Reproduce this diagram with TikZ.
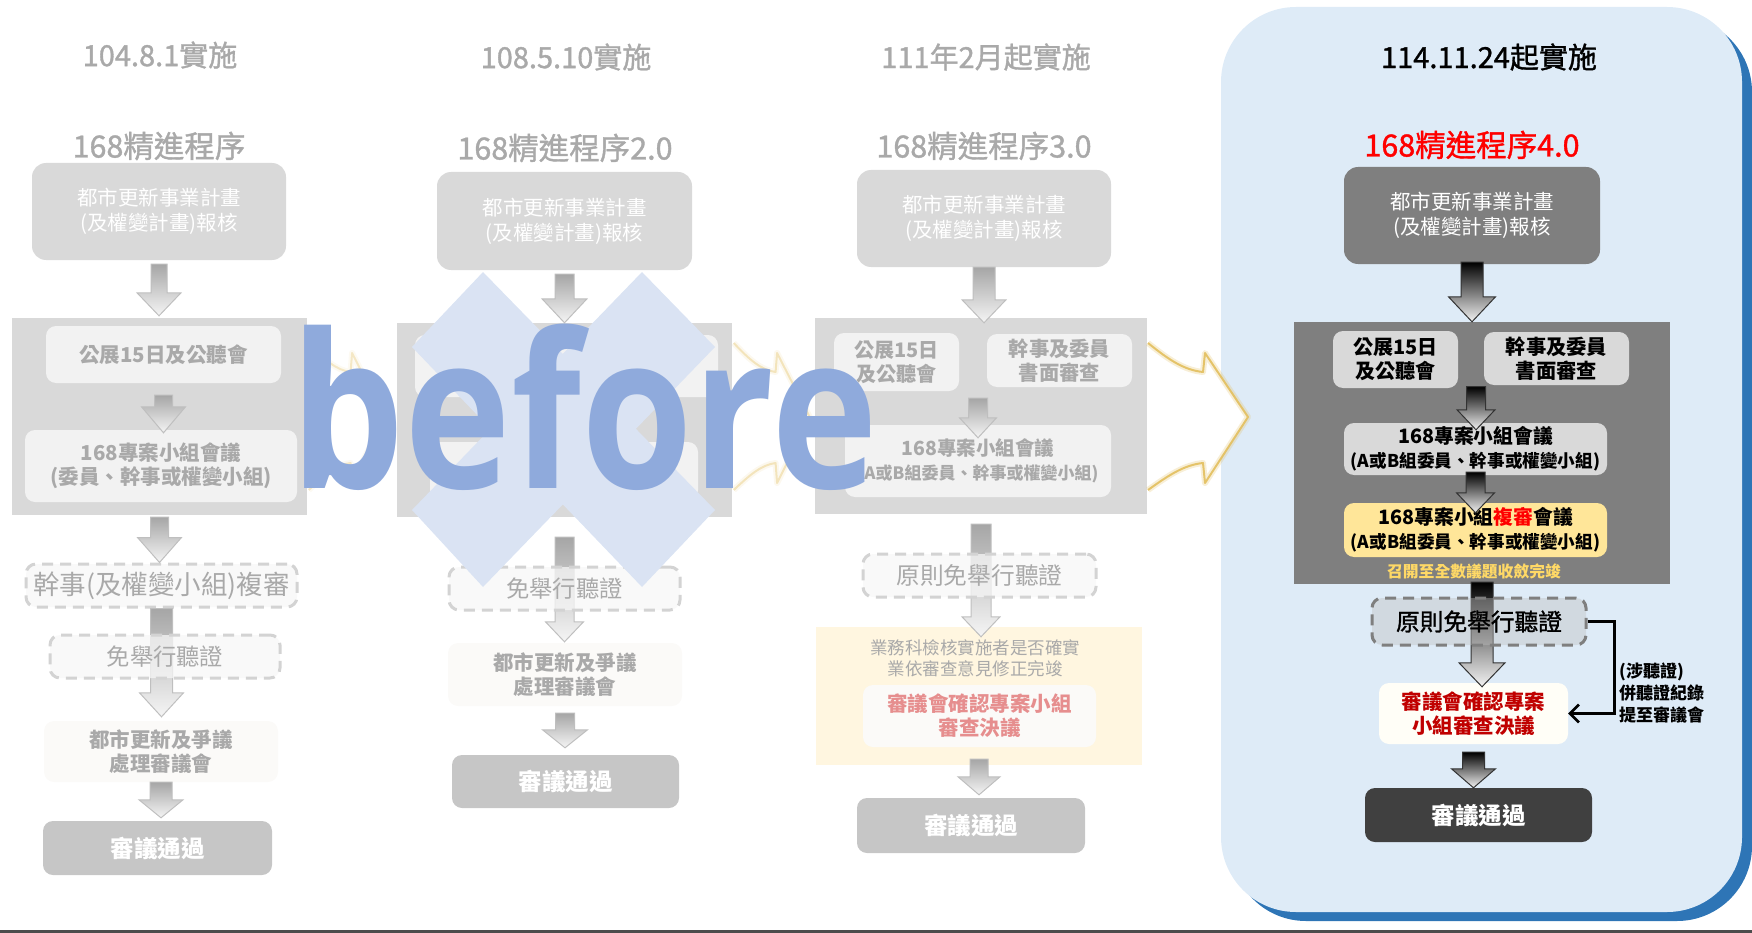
\documentclass[tikz,border=0pt]{standalone}
\usepackage{fontspec}
\setmainfont{Noto Sans CJK TC}
\newfontfamily\titlefont{Noto Sans CJK TC}[FakeBold=1.2]
\newfontfamily\befont{Open Sans}
\usetikzlibrary{calc,arrows.meta}

\definecolor{fadegray}{HTML}{D9D9D9}
\definecolor{fadetext}{HTML}{A9A9A9}
\definecolor{fadeinner}{HTML}{F2F2F2}
\definecolor{fadedash}{HTML}{D3D3D3}
\definecolor{fadeboard}{HTML}{FBFAF8}
\definecolor{fadepass}{HTML}{C6C6C6}
\definecolor{fadeyellow}{HTML}{FFF6E0}
\definecolor{fadered}{HTML}{E68E8E}
\definecolor{darkbox}{HTML}{7F7F7F}
\definecolor{panelblue}{HTML}{DEEBF7}
\definecolor{panelshadow}{HTML}{2E75B6}
\definecolor{bigx}{HTML}{DAE3F3}
\definecolor{beforeblue}{HTML}{8FAADC}
\definecolor{goldline}{HTML}{E3BF5E}
\definecolor{yellowbox}{HTML}{FFE699}
\definecolor{goldtext}{HTML}{FFD966}
\definecolor{redtext}{HTML}{C00000}
\definecolor{passdark}{HTML}{404040}

\newcommand\fsz[2]{\fontsize{#1}{#2}\selectfont}
% block arrow: style, from, to, half shaft, half head, head length
\newcommand\blkarrow[6]{%
  \shade[#1] let \p1=(#2), \p2=(#3) in
    (\x1-#4,\y1) -- (\x1+#4,\y1) -- (\x1+#4,\y2+#6) -- (\x1+#5,\y2+#6)
    -- (\x1,\y2) -- (\x1-#5,\y2+#6) -- (\x1-#4,\y2+#6) -- cycle;}

\begin{document}
\begin{tikzpicture}[x=1pt, y=-1pt, >={Straight Barb[length=9pt,width=18pt]},
  every node/.style={inner sep=0pt},
  oldtitle/.style={text=fadetext, font=\titlefont\fsz{29}{34}},
  oldhead/.style={text=fadetext, font=\titlefont\fsz{30.5}{36}},
  oldtop/.style={fill=fadegray, rounded corners=14pt, text=white, align=center, font=\fsz{20.5}{25}},
  oldgroup/.style={fill=fadegray},
  oldinner/.style={fill=fadeinner, rounded corners=10pt, text=fadetext, align=center, font=\bfseries\fsz{20.5}{24}},
  olddash/.style={draw=fadedash, dash pattern=on 11pt off 7pt, line width=3pt, rounded corners=10pt,
    fill=black!3, fill opacity=0.75, text opacity=1, text=fadetext},
  oldboard/.style={fill=fadeboard, rounded corners=10pt, text=fadetext, align=center, font=\bfseries\fsz{20.5}{24}},
  oldpass/.style={fill=fadepass, rounded corners=10pt, text=white, font=\bfseries\fsz{23.5}{28}},
  oldarrow/.style={top color=black!35, bottom color=black!4, draw=black!25, line width=1pt},
  newtop/.style={fill=darkbox, rounded corners=14pt, text=white, align=center, font=\fsz{20.5}{25}},
  newgroup/.style={fill=darkbox},
  newinner/.style={fill=fadegray, rounded corners=10pt, text=black, align=center, font=\bfseries\fsz{20.5}{24}},
  newdash/.style={draw=darkbox, dash pattern=on 11pt off 7pt, line width=3pt, rounded corners=10pt,
    fill=black!25, fill opacity=0.4, text opacity=1, text=black},
  newboard/.style={fill=black!3!yellow!3, rounded corners=10pt, text=redtext, align=center, font=\bfseries\fsz{20.5}{24}},
  newpass/.style={fill=passdark, rounded corners=10pt, text=white, font=\bfseries\fsz{23.5}{28}},
  newarrow/.style={top color=black, bottom color=black!5, draw=black!80, line width=1pt}]

\useasboundingbox (0,0) rectangle (1752,933);

% panel of the new procedure
\fill[panelshadow, rounded corners=75pt] (1231,17) rectangle (1752,921);
\fill[panelblue, rounded corners=75pt] (1221,7) rectangle (1742,912);

% 104.8.1
\node (t1) [oldtitle] at (160,55) {104.8.1實施};
\node (s1) [oldhead] at (159,146) {168精進程序};
\node (a1) [oldtop, minimum width=254pt, minimum height=97pt] at (159,211.5) {都市更新事業計畫\\(及權變計畫)報核};
\node (g1) [oldgroup, minimum width=295pt, minimum height=197pt] at (159.5,416.5) {};
\node (b1) [oldinner, minimum width=235pt, minimum height=57pt] at (163.5,354.5) {公展15日及公聽會};
\node (c1) [oldinner, minimum width=272pt, minimum height=72pt] at (161,466) {168專案小組會議\\(委員、幹事或權變小組)};
\node (d1) [olddash, minimum width=271pt, minimum height=43pt, font=\fsz{26.5}{30}] at (161.5,585.5) {幹事(及權變小組)複審};
\node (f1) [oldboard, minimum width=234pt, minimum height=61pt] at (161,751.5) {都市更新及爭議\\處理審議會};
\node (h1) [oldpass, minimum width=229pt, minimum height=54pt] at (157.5,848) {審議通過};
\blkarrow{oldarrow}{[yshift=-4pt]a1.south}{[yshift=2pt]g1.north}{8pt}{22pt}{23pt}
\blkarrow{oldarrow}{[yshift=-12pt]b1.south}{[yshift=-3pt]c1.north}{9pt}{22pt}{26pt}
\blkarrow{oldarrow}{[yshift=-2pt]g1.south}{d1.north}{9pt}{22pt}{25pt}
\blkarrow{oldarrow}{d1.south}{[yshift=4pt]f1.north}{11pt}{22pt}{24pt}
\node (e1) [olddash, minimum width=230pt, minimum height=43pt, font=\fsz{23.3}{28}] at (165,656.5) {免舉行聽證};
\blkarrow{oldarrow}{f1.south}{[yshift=3pt]h1.north}{11pt}{22pt}{18pt}

% 108.5.10
\node (t2) [oldtitle] at (566,57) {108.5.10實施};
\node (s2) [oldhead] at (565,148) {168精進程序2.0};
\node (a2) [oldtop, minimum width=255pt, minimum height=98pt] at (564.5,221) {都市更新事業計畫\\(及權變計畫)報核};
\node (g2) [oldgroup, minimum width=335pt, minimum height=194pt] at (564.5,420) {};
\node (b2) [oldinner, minimum width=303pt, minimum height=62pt] at (566.5,366) {};
\node (c2) [oldinner, minimum width=268pt, minimum height=58pt] at (564,471) {};
\blkarrow{oldarrow}{[yshift=-4pt]a2.south}{g2.north}{9.5pt}{22.5pt}{24pt}
\node (f2) [oldboard, minimum width=234pt, minimum height=63pt] at (565,674.5) {都市更新及爭議\\處理審議會};
\node (h2) [oldpass, minimum width=227pt, minimum height=53pt] at (565.5,781.5) {審議通過};
\blkarrow{oldarrow}{[yshift=-20pt]g2.south}{[yshift=1pt]f2.north}{9.5pt}{19pt}{20pt}
\node (e2) [olddash, minimum width=231pt, minimum height=43pt, font=\fsz{23.3}{28}] at (564.5,588.5) {免舉行聽證};
\blkarrow{oldarrow}{[yshift=-7pt]f2.south}{[yshift=7pt]h2.north}{9.5pt}{22.5pt}{18pt}

% 111.2
\node (t3) [oldtitle] at (986,57) {111年2月起實施};
\node (s3) [oldhead] at (984,146) {168精進程序3.0};
\node (a3) [oldtop, minimum width=254pt, minimum height=97pt] at (984,218.5) {都市更新事業計畫\\(及權變計畫)報核};
\node (g3) [oldgroup, minimum width=332pt, minimum height=196pt] at (981,416) {};
\node (b3) [oldinner, minimum width=125pt, minimum height=58pt, font=\bfseries\fsz{20}{24}] at (896.5,362) {公展15日\\及公聽會};
\node (k3) [oldinner, minimum width=145pt, minimum height=53pt, font=\bfseries\fsz{20.3}{24}] at (1059.5,360.5) {幹事及委員\\書面審查};
\node (c3) [oldinner, minimum width=266pt, minimum height=72pt] at (978,461) {{\fsz{19.5}{22}168專案小組會議}\\{\fsz{17}{22}(A或B組委員、幹事或權變小組)}};
\blkarrow{oldarrow}{a3.south}{[yshift=-5pt]g3.north}{11pt}{22pt}{23pt}
\blkarrow{oldarrow}{[yshift=-9pt]$(b3.south)!0.5!(k3.south)$}{[yshift=-13pt]c3.north}{9.5pt}{18.5pt}{20pt}
\node (y3) [fill=fadeyellow, minimum width=326pt, minimum height=138pt] at (979,696) {};
\blkarrow{oldarrow}{[yshift=-10pt]g3.south}{[yshift=-10pt]y3.north}{10pt}{19pt}{20pt}
\node (e3) [olddash, minimum width=233pt, minimum height=43pt, font=\fsz{23.7}{28}] at (979.5,575.5) {原則免舉行聽證};
\node (n3) [text=fadetext, align=center, font=\fsz{17.5}{21}] at (975,658.5) {業務科檢核實施者是否確實\\業依審查意見修正完竣};
\node (r3) [oldboard, text=fadered, minimum width=233pt, minimum height=62pt] at (979.5,716) {審議會確認專案小組\\審查決議};
\node (h3) [oldpass, minimum width=228pt, minimum height=55pt] at (971,825.5) {審議通過};
\blkarrow{oldarrow}{[yshift=6pt]y3.south}{[yshift=3pt]h3.north}{9pt}{21pt}{18pt}

% arrows between the stages
\foreach \gx/\gs/\go/\gg in {308/0.76/0.3/0.08, 733/0.76/0.35/0.1, 1147/1/0.9/0.25} {
  \begin{scope}[shift={(\gx,0)}, xscale=\gs]
    \fill[white] (1,343) .. controls (22,360) and (37,370) .. (56,372) -- (58,353) -- (101,417)
      -- (58,483) -- (56,463) .. controls (37,465) and (22,475) .. (1,490) -- cycle;
    \draw[goldline, line width=6pt, opacity=\gg, line join=round] (1,343) .. controls (22,360) and (37,370) .. (56,372)
      -- (58,353) -- (101,417) -- (58,483) -- (56,463) .. controls (37,465) and (22,475) .. (1,490);
    \draw[goldline, line width=2pt, opacity=\go, line join=round] (1,343) .. controls (22,360) and (37,370) .. (56,372)
      -- (58,353) -- (101,417) -- (58,483) -- (56,463) .. controls (37,465) and (22,475) .. (1,490);
  \end{scope}
}

% cross and before
\fill[bigx] (412,347) -- (483,272) -- (715,510) -- (642,587) -- cycle;
\fill[bigx] (642,272) -- (715,347) -- (483,587) -- (412,510) -- cycle;
\node (bf) [anchor=base west, text=beforeblue] at (290,488) {\scalebox{0.84}[1]{\befont\bfseries\fsz{215}{215}before}};

% 114.11.24
\node (t4) [text=black, font=\titlefont\fsz{29}{34}] at (1489,57) {114.11.24起實施};
\node (s4) [text=red, font=\titlefont\fsz{30.5}{36}] at (1472,145) {168精進程序4.0};
\node (a4) [newtop, minimum width=256pt, minimum height=97pt] at (1472,215.5) {都市更新事業計畫\\(及權變計畫)報核};
\node (g4) [newgroup, minimum width=376pt, minimum height=262pt] at (1482,453) {};
\node (b4) [newinner, minimum width=125pt, minimum height=57pt, font=\bfseries\fsz{20}{24}] at (1395.5,359.5) {公展15日\\及公聽會};
\node (k4) [newinner, minimum width=145pt, minimum height=53pt, font=\bfseries\fsz{20.3}{24}] at (1556.5,358.5) {幹事及委員\\書面審查};
\node (c4) [newinner, minimum width=263pt, minimum height=52pt] at (1475.5,449) {{\fsz{19.8}{20}168專案小組會議}\\{\fsz{17.6}{20}(A或B組委員、幹事或權變小組)}};
\node (y4) [newinner, fill=yellowbox, minimum width=263pt, minimum height=54pt] at (1475.5,530) {{\fsz{19.8}{22}168專案小組{\color{red}複審}會議}\\{\fsz{17.6}{22}(A或B組委員、幹事或權變小組)}};
\node (q4) [text=goldtext, font=\bfseries\fsz{15.8}{18}] at (1474,571) {召開至全數議題收斂完竣};
\blkarrow{newarrow}{[yshift=2pt]a4.south}{g4.north}{11pt}{23.5pt}{25pt}
\blkarrow{newarrow}{$(b4.south)!0.5!(k4.south)$}{[yshift=-7pt]c4.north}{9.5pt}{19pt}{20pt}
\blkarrow{newarrow}{[yshift=3pt]c4.south}{[yshift=-10pt]y4.north}{9.5pt}{19pt}{20pt}
\node (r4) [newboard, minimum width=189pt, minimum height=61pt] at (1473.5,713.5) {審議會確認專案\\小組審查決議};
\node (h4) [newpass, minimum width=227pt, minimum height=54pt] at (1478.5,815) {審議通過};
\blkarrow{newarrow}{[yshift=2pt]g4.south}{[yshift=-4pt]r4.north}{11pt}{23pt}{24pt}
\node (e4) [newdash, minimum width=214pt, minimum height=47pt, font=\titlefont\fsz{23.7}{28}] at (1479,621.5) {原則免舉行聽證};
\blkarrow{newarrow}{[yshift=-8pt]r4.south}{h4.north}{11pt}{22pt}{19pt}
\draw[line width=2.5pt, ->] (e4.east) -- ++(27,0) |- (r4.east);
\node (l4) [anchor=west, align=left, font=\bfseries\fsz{17}{22}] at (1619,693) {(涉聽證)\\併聽證紀錄\\提至審議會};

\draw[line width=2.5pt, black!70] (0,931.5) -- (1752,931.5);
\end{tikzpicture}
\end{document}
